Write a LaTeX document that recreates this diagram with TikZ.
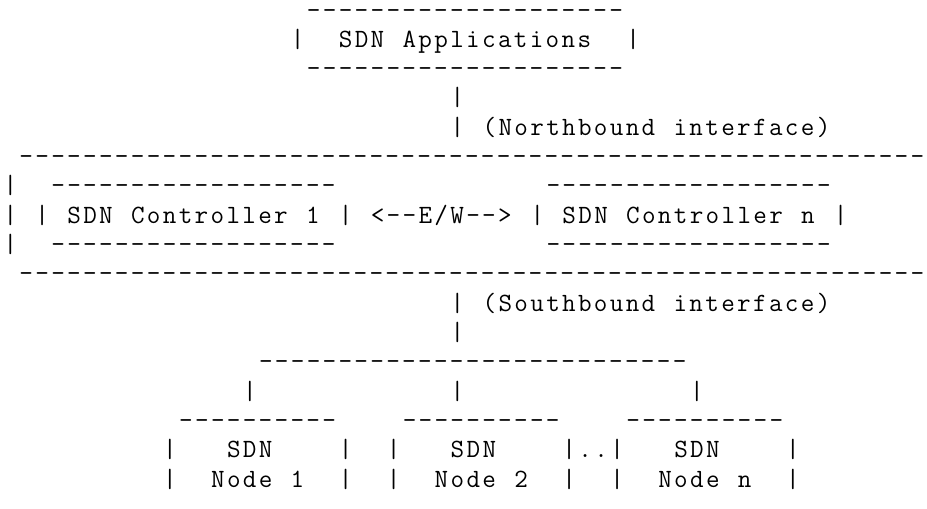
\documentclass[tikz,border=0pt]{standalone}
\usepackage{fontspec}
\usepackage{tikz}
\newlength{\cellw}
\setlength{\cellw}{9.055pt}
\ExplSyntaxOn
\NewDocumentCommand{\cells}{m}{\str_map_inline:nn {#1} {\makebox[\cellw][c]{##1}}}
\ExplSyntaxOff
\newcommand{\dashrun}[1]{\foreach \k in {1,...,#1}{\makebox[\cellw][c]{-}}}
\tikzstyle{ascii}=[anchor=base west, inner sep=0pt, text=black, font=\ttfamily\fontsize{15}{17}\selectfont]

\begin{document}
\begin{tikzpicture}[x=0.3194cm, y=-0.5866cm]
	\useasboundingbox (0cm,0cm) rectangle (18.54cm,-10.16cm);
	\begin{scope}[shift={(0.04cm,-0.36cm)}]
		\node[ascii] (appT) at (19, 0) {\dashrun{20}};
		\node[ascii] (appL) at (18, 1) {\cells{|}};
		\node[ascii] (apps) at (21, 1) {\cells{SDN Applications}};
		\node[ascii] (appR) at (39, 1) {\cells{|}};
		\node[ascii] (appB) at (19, 2) {\dashrun{20}};
		\node[ascii] (nb1) at (28, 3) {\cells{|}};
		\node[ascii] (nb2) at (28, 4) {\cells{|}};
		\node[ascii] (north) at (30, 4) {\cells{(Northbound interface)}};
		\node[ascii] (ctlT) at (1, 5) {\dashrun{57}};
		\node[ascii] (ctlL1) at (0, 6) {\cells{|}};
		\node[ascii] (c1T) at (3, 6) {\dashrun{18}};
		\node[ascii] (cnT) at (34, 6) {\dashrun{18}};
		\node[ascii] (ctlL2) at (0, 7) {\cells{|}};
		\node[ascii] (c1L) at (2, 7) {\cells{|}};
		\node[ascii] (ctrl1) at (4, 7) {\cells{SDN Controller 1}};
		\node[ascii] (c1R) at (21, 7) {\cells{|}};
		\node[ascii] (ew) at (23, 7) {\cells{<--E/W-->}};
		\node[ascii] (cnL) at (33, 7) {\cells{|}};
		\node[ascii] (ctrln) at (35, 7) {\cells{SDN Controller n}};
		\node[ascii] (cnR) at (52, 7) {\cells{|}};
		\node[ascii] (ctlL3) at (0, 8) {\cells{|}};
		\node[ascii] (c1B) at (3, 8) {\dashrun{18}};
		\node[ascii] (cnB) at (34, 8) {\dashrun{18}};
		\node[ascii] (ctlB) at (1, 9) {\dashrun{57}};
		\node[ascii] (sb1) at (28, 10) {\cells{|}};
		\node[ascii] (south) at (30, 10) {\cells{(Southbound interface)}};
		\node[ascii] (sb2) at (28, 11) {\cells{|}};
		\node[ascii] (bus) at (16, 12) {\dashrun{27}};
		\node[ascii] (drop1) at (15, 13) {\cells{|}};
		\node[ascii] (drop2) at (28, 13) {\cells{|}};
		\node[ascii] (dropn) at (43, 13) {\cells{|}};
		\node[ascii] (n1T) at (11, 14) {\dashrun{10}};
		\node[ascii] (n2T) at (25, 14) {\dashrun{10}};
		\node[ascii] (nnT) at (39, 14) {\dashrun{10}};
		\node[ascii] (n1L1) at (10, 15) {\cells{|}};
		\node[ascii] (n1a) at (14, 15) {\cells{SDN}};
		\node[ascii] (n1R1) at (21, 15) {\cells{|}};
		\node[ascii] (n2L1) at (24, 15) {\cells{|}};
		\node[ascii] (n2a) at (28, 15) {\cells{SDN}};
		\node[ascii] (n2R1) at (35, 15) {\cells{|}};
		\node[ascii] (dots) at (36, 15) {\cells{..}};
		\node[ascii] (nnL1) at (38, 15) {\cells{|}};
		\node[ascii] (nna) at (42, 15) {\cells{SDN}};
		\node[ascii] (nnR1) at (49, 15) {\cells{|}};
		\node[ascii] (n1L2) at (10, 16) {\cells{|}};
		\node[ascii] (n1b) at (13, 16) {\cells{Node 1}};
		\node[ascii] (n1R2) at (21, 16) {\cells{|}};
		\node[ascii] (n2L2) at (24, 16) {\cells{|}};
		\node[ascii] (n2b) at (27, 16) {\cells{Node 2}};
		\node[ascii] (n2R2) at (35, 16) {\cells{|}};
		\node[ascii] (nnL2) at (38, 16) {\cells{|}};
		\node[ascii] (nnb) at (41, 16) {\cells{Node n}};
		\node[ascii] (nnR2) at (49, 16) {\cells{|}};
	\end{scope}
\end{tikzpicture}
\end{document}
